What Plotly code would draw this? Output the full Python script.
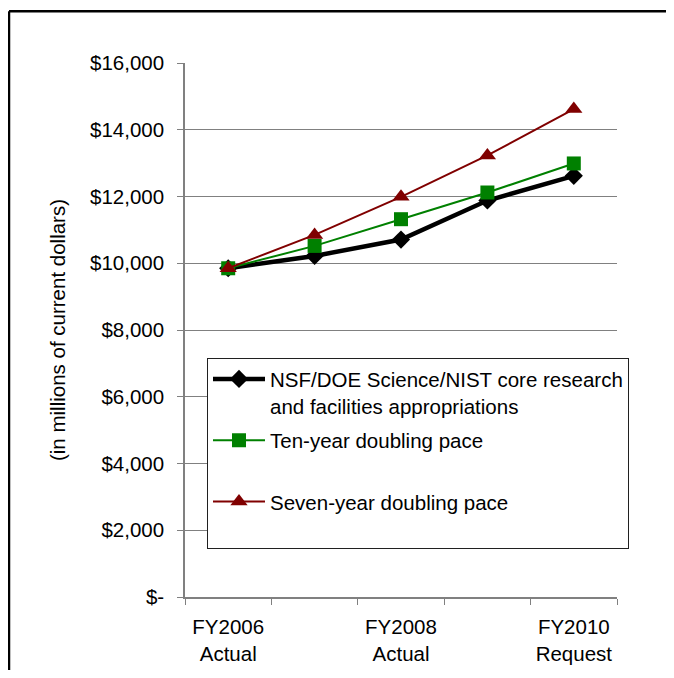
import plotly.graph_objects as go

categories = ["FY2006<br>Actual", " ", "FY2008<br>Actual", "  ", "FY2010<br>Request"]
core_research = [9850, 10220, 10710, 11880, 12620]
ten_year_pace = [9850, 10520, 11320, 12120, 12990]
seven_year_pace = [9850, 10850, 11990, 13230, 14620]
ytick_vals = [0, 2000, 4000, 6000, 8000, 10000, 12000, 14000, 16000]
ytick_text = ["$-", "$2,000", "$4,000", "$6,000", "$8,000", "$10,000", "$12,000", "$14,000", "$16,000"]

FONT = "Liberation Sans, Arial, sans-serif"
FS = 20.5

# figure is drawn at an 8px body offset in the page
W, H = 658, 662
L, R, T, B = 177, 49, 54.7, 73
PW, PH = W - L - R, H - T - B

fig = go.Figure()
fig.add_trace(go.Scatter(
    x=categories, y=core_research, mode="lines+markers",
    name="NSF/DOE Science/NIST core research<br>and facilities appropriations",
    legendgroup="a",
    line=dict(color="#000000", width=4.5),
    marker=dict(symbol="diamond", size=14, color="#000000"),
))
fig.add_trace(go.Scatter(
    x=categories, y=ten_year_pace, mode="lines+markers",
    name="Ten-year doubling pace<br> ",
    legendgroup="b",
    line=dict(color="#008000", width=2),
    marker=dict(symbol="square", size=14, color="#008000"),
))
fig.add_trace(go.Scatter(
    x=categories, y=seven_year_pace, mode="lines+markers",
    name="Seven-year doubling pace<br> ",
    legendgroup="c",
    line=dict(color="#800000", width=2),
    marker=dict(symbol="triangle-up", size=15, color="#800000"),
))

frame_x = (1 - L) / PW
frame_y = (H - B - 3) / PH
fig.update_layout(
    width=W, height=H,
    margin=dict(l=L, r=R, t=T, b=B, autoexpand=False),
    paper_bgcolor="white", plot_bgcolor="white",
    font=dict(family=FONT, size=FS, color="#000000"),
    showlegend=True,
    legend=dict(
        x=(199 - L) / PW, y=(H - B - 350) / PH, xanchor="left", yanchor="top",
        bgcolor="white", bordercolor="#202020", borderwidth=1,
        font=dict(family=FONT, size=FS, color="#000000"),
        valign="top", itemwidth=52, traceorder="grouped", tracegroupgap=5,
    ),
    shapes=[
        dict(type="line", xref="paper", yref="paper",
             x0=frame_x, x1=frame_x, y0=-0.5, y1=frame_y,
             line=dict(color="#000000", width=2.5), layer="below"),
        dict(type="line", xref="paper", yref="paper",
             x0=frame_x, x1=1.5, y0=frame_y, y1=frame_y,
             line=dict(color="#000000", width=2.5), layer="below"),
    ],
)

fig.update_xaxes(
    type="category", categoryorder="array", categoryarray=categories,
    range=[-0.5, 4.5], showgrid=False, showline=True, linecolor="#808080", linewidth=1.5,
    ticks="outside", tickson="boundaries", ticklen=6, tickcolor="#808080", tickwidth=1,
    tickfont=dict(family=FONT, size=FS, color="#000000"), ticklabelstandoff=11,
    zeroline=False,
)
fig.update_yaxes(
    range=[0, 16000], tickvals=ytick_vals, ticktext=ytick_text,
    showgrid=True, gridcolor="#808080", gridwidth=1,
    showline=True, linecolor="#808080", linewidth=1.5,
    ticks="outside", ticklen=6, tickcolor="#808080", tickwidth=1,
    tickfont=dict(family=FONT, size=FS, color="#000000"), ticklabelstandoff=9,
    zeroline=False,
    title=dict(text="(in millions of current dollars)", standoff=19,
               font=dict(family=FONT, size=FS, color="#000000")),
)

fig.write_html("out.html")
